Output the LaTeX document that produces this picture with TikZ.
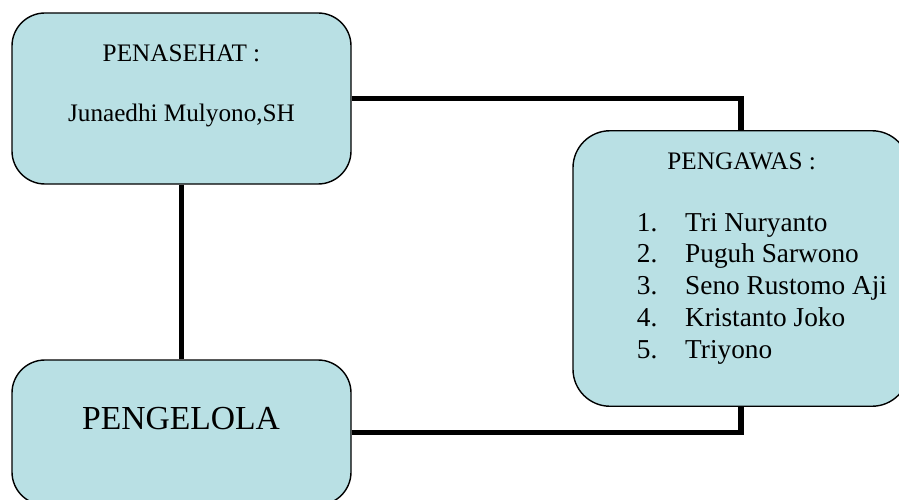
\documentclass[tikz,border=0pt]{standalone}
\usepackage{fontspec}
\setmainfont{Liberation Serif}
\definecolor{boxfill}{RGB}{185,224,228}
\begin{document}
\begin{tikzpicture}[x=1pt,y=-1pt,
  orgbox/.style={draw=black, line width=1.4pt, fill=boxfill, rectangle, inner sep=0pt},
  link/.style={line width=5.5pt, black, line join=miter},
  head/.style={anchor=base, inner sep=0pt, font=\fontsize{25.2}{30}\selectfont},
  item/.style={anchor=base west, inner sep=0pt, font=\fontsize{27.3}{31}\selectfont},
  big/.style={anchor=base, inner sep=0pt, font=\fontsize{33.6}{40}\selectfont}]
\useasboundingbox (0,0) rectangle (899,500);
\clip (0,0) rectangle (899,500);
% boxes
\node[orgbox, rounded corners=33pt, minimum width=339pt, minimum height=171pt] (pen) at (181.5,98.5) {};
\node[orgbox, rounded corners=37pt, minimum width=336pt, minimum height=275.5pt] (paw) at (741,268.5) {};
\node[orgbox, rounded corners=33pt, minimum width=339pt, minimum height=145pt] (pel) at (181.5,432.5) {};
% connectors
\draw[link] (pen.east) -| (paw.north);
\draw[link] (pen.south) -- (pel.north);
\draw[link] (pel.east) -| (paw.south);
% texts
\node[head] (t1) at (181.5,61.5) {PENASEHAT :};
\node[head] (t2) at (181.5,121.7) {Junaedhi Mulyono,SH};
\node[head] (t3) at (741.7,169) {PENGAWAS :};
\node[item] (n1) at (636.7,231) {1.};
\node[item] (n2) at (636.7,262.75) {2.};
\node[item] (n3) at (636.7,294.5) {3.};
\node[item] (n4) at (636.7,326.25) {4.};
\node[item] (n5) at (636.7,358) {5.};
\node[item] (i1) at (685,231) {Tri Nuryanto};
\node[item] (i2) at (685,262.75) {Puguh Sarwono};
\node[item] (i3) at (685,294.5) {Seno Rustomo Aji};
\node[item] (i4) at (685,326.25) {Kristanto Joko};
\node[item] (i5) at (685,358) {Triyono};
\node[big] (t4) at (181,429.3) {PENGELOLA};
\end{tikzpicture}
\end{document}
